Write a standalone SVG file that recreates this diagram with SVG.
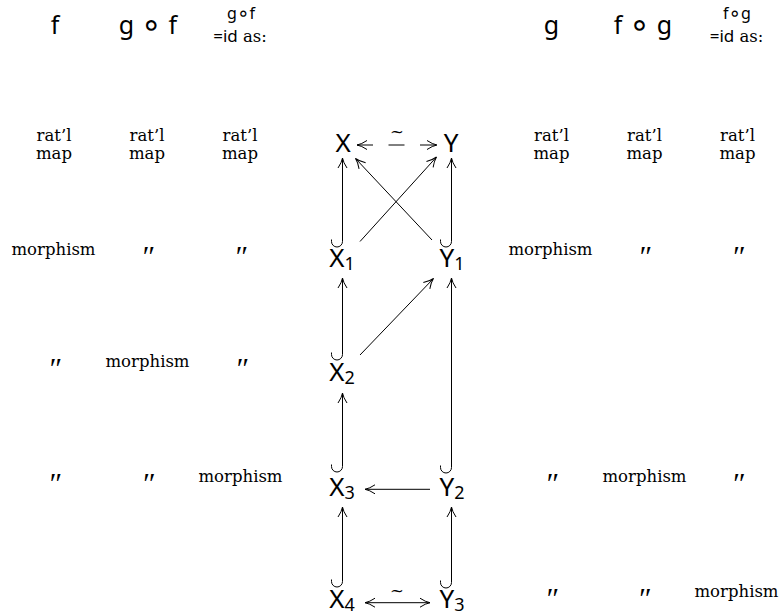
<svg xmlns="http://www.w3.org/2000/svg" width="782" height="616" viewBox="0 0 782 616">
<defs>
<marker id="ah" viewBox="-11 -6 12 12" markerWidth="12" markerHeight="12" refX="0" refY="0" orient="auto-start-reverse" markerUnits="userSpaceOnUse">
<path d="M-10,-4.5 Q-4.5,-0.8 0,0 Q-4.5,0.8 -10,4.5" fill="none" stroke="#000" stroke-width="1"/>
</marker>
</defs>
<style>
.m{font-family:"Noto Sans","DejaVu Sans",sans-serif;fill:#000}
.node{font-size:26px;text-anchor:middle}
.sub{font-size:18px}
.hd{font-size:25px;text-anchor:middle}
.sm{font-size:16px;text-anchor:middle}
.o{font-family:"DejaVu Sans",sans-serif}
.t{font-family:"DejaVu Serif","Liberation Serif",serif;font-size:16.5px;text-anchor:middle;fill:#000}
.d{font-family:"Liberation Serif","DejaVu Serif",serif;font-size:30px;font-style:italic;text-anchor:middle;fill:#000}
.c{fill:none;stroke:#000;stroke-width:1}
.a{marker-end:url(#ah)}
.b{marker-start:url(#ah);marker-end:url(#ah)}
</style>
<g id="headers">
<text class="m hd" x="55" y="34">f</text>
<text class="m hd" x="148" y="34">g <tspan class="o" font-size="34" dy="2">∘</tspan><tspan dy="-2"> f</tspan></text>
<text class="m sm" x="241" y="19">g<tspan class="o" font-size="20" dy="1">∘</tspan><tspan dy="-1">f</tspan></text>
<text x="240" y="42" text-anchor="middle"><tspan class="m" font-size="17">=id</tspan><tspan class="t" font-size="17"> as:</tspan></text>
<text class="m hd" x="551.5" y="34">g</text>
<text class="m hd" x="643" y="34">f <tspan class="o" font-size="34" dy="2">∘</tspan><tspan dy="-2"> g</tspan></text>
<text class="m sm" x="737" y="19">f<tspan class="o" font-size="20" dy="1">∘</tspan><tspan dy="-1">g</tspan></text>
<text x="736.5" y="42" text-anchor="middle"><tspan class="m" font-size="17">=id</tspan><tspan class="t" font-size="17"> as:</tspan></text>
</g>
<g id="table-left">
<text class="t" x="54" y="140.5">rat’l</text><text class="t" x="54" y="158.5">map</text>
<text class="t" x="147" y="140.5">rat’l</text><text class="t" x="147" y="158.5">map</text>
<text class="t" x="240" y="140.5">rat’l</text><text class="t" x="240" y="158.5">map</text>
<text class="t" x="53.5" y="255">morphism</text>
<text class="d" x="147" y="266">″</text>
<text class="d" x="240" y="266">″</text>
<text class="d" x="54" y="378">″</text>
<text class="t" x="147.5" y="367">morphism</text>
<text class="d" x="241" y="378">″</text>
<text class="d" x="54" y="493">″</text>
<text class="d" x="147.5" y="493">″</text>
<text class="t" x="240.5" y="482">morphism</text>
</g>
<g id="table-right">
<text class="t" x="551.5" y="140.5">rat’l</text><text class="t" x="551.5" y="158.5">map</text>
<text class="t" x="644.5" y="140.5">rat’l</text><text class="t" x="644.5" y="158.5">map</text>
<text class="t" x="737.5" y="140.5">rat’l</text><text class="t" x="737.5" y="158.5">map</text>
<text class="t" x="550.5" y="255">morphism</text>
<text class="d" x="644" y="266">″</text>
<text class="d" x="737.5" y="266">″</text>
<text class="d" x="551" y="493">″</text>
<text class="t" x="644.5" y="482">morphism</text>
<text class="d" x="737.5" y="493">″</text>
<text class="d" x="551" y="608">″</text>
<text class="d" x="643.5" y="608">″</text>
<text class="t" x="736.5" y="597">morphism</text>
</g>
<g id="node-X"><text class="m node" x="343" y="152">X</text></g>
<g id="node-Y"><text class="m node" x="451" y="152">Y</text></g>
<g id="node-X1"><text class="m node" x="342" y="267">X<tspan class="sub" dy="3">1</tspan></text></g>
<g id="node-Y1"><text class="m node" x="452" y="267">Y<tspan class="sub" dy="3">1</tspan></text></g>
<g id="node-X2"><text class="m node" x="342" y="381">X<tspan class="sub" dy="3">2</tspan></text></g>
<g id="node-X3"><text class="m node" x="342" y="496">X<tspan class="sub" dy="3">3</tspan></text></g>
<g id="node-Y2"><text class="m node" x="452" y="496">Y<tspan class="sub" dy="3">2</tspan></text></g>
<g id="node-X4"><text class="m node" x="342" y="608">X<tspan class="sub" dy="3">4</tspan></text></g>
<g id="node-Y3"><text class="m node" x="452" y="608">Y<tspan class="sub" dy="3">3</tspan></text></g>
<g id="connectors">
<line class="c b" x1="357" y1="145" x2="437" y2="145" stroke-dasharray="16 15.5"/>
<text class="t" x="397" y="137">~</text>
<path class="c a" d="M331.5,239.5 L331.5,241.5 A5.5,5.5 0 0 0 342.5,241.5 L342.5,158"/>
<path class="c a" d="M440.5,239.5 L440.5,241.5 A5.5,5.5 0 0 0 451.5,241.5 L451.5,158"/>
<line class="c a" x1="360" y1="241.5" x2="436.5" y2="157"/>
<line class="c a" x1="432" y1="240" x2="355.5" y2="158.5"/>
<path class="c a" d="M331.5,352.5 L331.5,354.5 A5.5,5.5 0 0 0 342.5,354.5 L342.5,278"/>
<line class="c a" x1="360" y1="355" x2="433.5" y2="278.5"/>
<path class="c a" d="M440.5,465.5 L440.5,467.5 A5.5,5.5 0 0 0 451.5,467.5 L451.5,278"/>
<path class="c a" d="M331.5,464.5 L331.5,466.5 A5.5,5.5 0 0 0 342.5,466.5 L342.5,393"/>
<line class="c a" x1="430" y1="489.3" x2="365" y2="489.3"/>
<path class="c a" d="M331.5,579.5 L331.5,581.5 A5.5,5.5 0 0 0 342.5,581.5 L342.5,507"/>
<path class="c a" d="M440.5,580.5 L440.5,582.5 A5.5,5.5 0 0 0 451.5,582.5 L451.5,507"/>
<line class="c b" x1="365" y1="602.7" x2="430" y2="602.7"/>
<text class="t" x="397" y="596">~</text>
</g>
</svg>
